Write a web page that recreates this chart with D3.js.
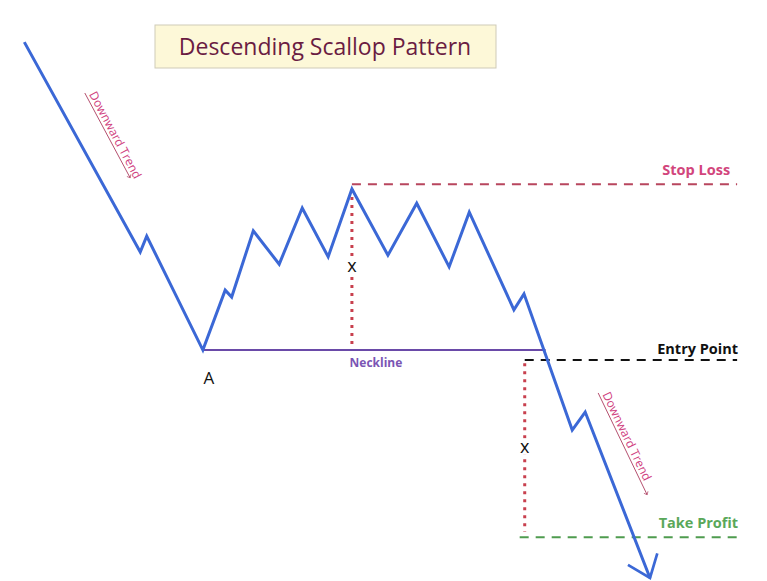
<!DOCTYPE html>
<html lang="en">
<head>
    <meta charset="UTF-8">
    <title>Descending Scallop Pattern</title>
    <script src="https://d3js.org/d3.v7.min.js"></script>
    <style>
        body { margin: 0; background: #fff; }
        svg { display: block; font-family: "Open Sans", "Noto Sans", sans-serif; }
    </style>
</head>
<body>
    <svg id="chart" width="767" height="581"></svg>

    <script>
        // Price path: time (0-100) and price (0-100)
        const pathTime  = [0.6, 16.7, 17.6, 25.4, 28.5, 29.4, 32.4, 36.0, 39.2, 42.8, 46.1, 51.1, 55.1, 59.6, 62.4, 68.6, 70.0, 76.7, 78.5, 87.5];
        const pathPrice = [99.6, 60.0, 63.0, 41.5, 52.8, 51.5, 64.0, 57.7, 68.3, 59.1, 71.9, 59.4, 69.2, 57.2, 67.5, 49.1, 52.1, 26.4, 29.8, -1.5];

        // Horizontal levels
        const levelNames  = ["Stop Loss", "Entry Point", "Take Profit"];
        const levelPrice  = [72.8, 39.6, 6.2];
        const levelStart  = [46.1, 70.1, 69.4];
        const levelEnd    = [99.6, 99.6, 100.3];

        // Neckline
        const necklinePrice = 41.5;
        const necklineFrom = 25.4, necklineTo = 73.0;

        // Measured distance "x": time, top price, bottom price
        const measureTime = [46.1, 70.1];
        const measureTop  = [71.9, 39.0];
        const measureBot  = [42.5, 7.2];

        // Downward trend annotations: start and end of arrow (time, price)
        const trendFrom = [[9.0, 90.0], [80.3, 33.4]];
        const trendTo   = [[15.3, 74.0], [87.1, 14.2]];

        const svg = d3.select("#chart");

        const x = d3.scaleLinear().domain([0, 100]).range([20, 740]);
        const y = d3.scaleLinear().domain([0, 100]).range([570, 40]);

        const defs = svg.append("defs");
        defs.append("marker")
            .attr("id", "bigArrow")
            .attr("viewBox", "-10 -10 20 20")
            .attr("refX", 0).attr("refY", 0)
            .attr("markerWidth", 15).attr("markerHeight", 15)
            .attr("markerUnits", "strokeWidth")
            .attr("orient", "auto")
            .append("path")
            .attr("d", "M-9,-7 L0,0 L-9,7")
            .attr("fill", "none")
            .attr("stroke", "#3b68d6")
            .attr("stroke-width", 1.2);

        defs.append("marker")
            .attr("id", "smallArrow")
            .attr("viewBox", "-10 -10 20 20")
            .attr("refX", 0).attr("refY", 0)
            .attr("markerWidth", 9).attr("markerHeight", 9)
            .attr("orient", "auto")
            .append("path")
            .attr("d", "M-6,-5 L0,0 L-6,5")
            .attr("fill", "none")
            .attr("stroke", "#b5506f")
            .attr("stroke-width", 1.6);

        // Title box
        svg.append("rect")
            .attr("x", 155).attr("y", 25)
            .attr("width", 341).attr("height", 43)
            .attr("fill", "#fdf8d8")
            .attr("stroke", "#cfcbb8");

        svg.append("text")
            .attr("x", 325).attr("y", 55)
            .attr("text-anchor", "middle")
            .attr("font-size", 23)
            .attr("fill", "#6a1c42")
            .text("Descending Scallop Pattern");

        // Neckline
        svg.append("line")
            .attr("x1", x(necklineFrom)).attr("x2", x(necklineTo))
            .attr("y1", y(necklinePrice)).attr("y2", y(necklinePrice))
            .attr("stroke", "#6a4aa8")
            .attr("stroke-width", 2);

        svg.append("text")
            .attr("x", x(46.1) + 24).attr("y", y(necklinePrice) + 17)
            .attr("text-anchor", "middle")
            .attr("font-size", 12)
            .attr("font-weight", "bold")
            .attr("fill", "#7b55b4")
            .text("Neckline");

        // Level lines
        const levelColors = ["#b8465e", "#111111", "#4f9c4f"];
        const labelColors = ["#d2457c", "#111111", "#5aa85a"];
        levelNames.forEach((name, i) => {
            svg.append("line")
                .attr("x1", x(levelStart[i])).attr("x2", x(levelEnd[i]))
                .attr("y1", y(levelPrice[i])).attr("y2", y(levelPrice[i]))
                .attr("stroke", levelColors[i])
                .attr("stroke-width", 2)
                .attr("stroke-dasharray", "9,7");

            svg.append("text")
                .attr("x", x(levelEnd[i]) - (i === 2 ? 4 : 7) + (i === 1 ? 8 : 0))
                .attr("y", y(levelPrice[i]) - (i === 1 ? 6 : 9))
                .attr("text-anchor", "end")
                .attr("font-size", 14.5)
                .attr("font-weight", "bold")
                .attr("fill", labelColors[i])
                .text(name);
        });

        // Measured distance dotted lines
        measureTime.forEach((t, i) => {
            svg.append("line")
                .attr("x1", x(t)).attr("x2", x(t))
                .attr("y1", y(measureTop[i])).attr("y2", y(measureBot[i]))
                .attr("stroke", "#c8404e")
                .attr("stroke-width", 3)
                .attr("stroke-dasharray", "3,5");

            const mid = y((measureTop[i] + measureBot[i]) / 2);
            svg.append("rect")
                .attr("x", x(t) - 7).attr("y", mid - 9)
                .attr("width", 14).attr("height", 16)
                .attr("fill", "#fff");
            svg.append("text")
                .attr("x", x(t)).attr("y", mid + 5)
                .attr("text-anchor", "middle")
                .attr("font-size", 18)
                .attr("fill", "#111")
                .text("x");
        });

        // Price path
        const points = pathTime.map((t, i) => [t, pathPrice[i]]);
        svg.append("path")
            .datum(points)
            .attr("fill", "none")
            .attr("stroke", "#3b68d6")
            .attr("stroke-width", 3)
            .attr("stroke-linejoin", "miter")
            .attr("marker-end", "url(#bigArrow)")
            .attr("d", d3.line().x(d => x(d[0])).y(d => y(d[1])));

        // Point A
        svg.append("text")
            .attr("x", x(pathTime[3]) + 6).attr("y", y(pathPrice[3]) + 34)
            .attr("text-anchor", "middle")
            .attr("font-size", 17)
            .attr("fill", "#111")
            .text("A");

        // Downward trend annotations
        trendFrom.forEach((from, i) => {
            const to = trendTo[i];
            const x1 = x(from[0]), y1 = y(from[1]);
            const x2 = x(to[0]), y2 = y(to[1]);
            const angle = Math.atan2(y2 - y1, x2 - x1) * 180 / Math.PI;

            svg.append("line")
                .attr("x1", x1).attr("y1", y1)
                .attr("x2", x2).attr("y2", y2)
                .attr("stroke", "#b5506f")
                .attr("stroke-width", 1)
                .attr("marker-end", "url(#smallArrow)");

            svg.append("text")
                .attr("transform", `translate(${x1},${y1}) rotate(${angle})`)
                .attr("x", 3).attr("y", -3)
                .attr("font-size", 12)
                .attr("fill", "#d0407e")
                .text("Downward Trend");
        });
    </script>
</body>
</html>
